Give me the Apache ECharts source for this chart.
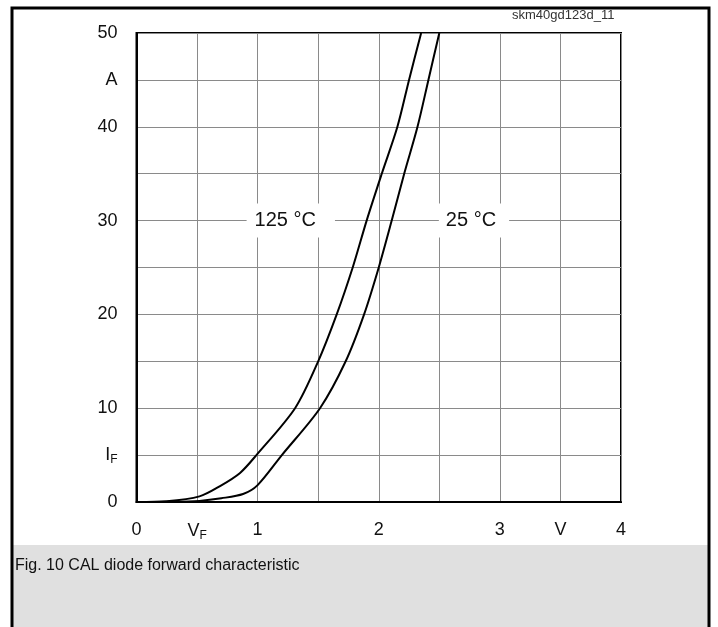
<!DOCTYPE html>
<html>
<head>
<meta charset="utf-8">
<script src="https://cdn.jsdelivr.net/npm/echarts@6/dist/echarts.min.js"></script>
<style>
html,body{margin:0;padding:0;background:#fff;}
#c{width:718px;height:627px;}
</style>
</head>
<body>
<div id="c"></div>
<script>
// Forward voltage (V) and current (A)
const vf125 = [0, 0.25, 0.52, 0.69, 0.855, 0.99, 1.309, 1.5, 1.653, 1.785, 1.9, 2.025, 2.154, 2.25, 2.35];
const if125 = [0, 0.08, 0.6, 1.7, 3.1, 5, 10, 15, 20, 25, 30, 35, 40, 45, 50];
const vf25 = [0, 0.3, 0.52, 0.7, 0.88, 1.0, 1.2, 1.515, 1.727, 1.879, 2.0, 2.107, 2.21, 2.32, 2.41, 2.5];
const if25 = [0, 0.02, 0.12, 0.4, 0.85, 1.8, 5, 10, 15, 20, 25, 30, 35, 40, 45, 50];
const xTickLabels = ['0', '{v|V}{s|F}', '1', '', '2', '', '3', 'V', '4'];
const yTickLabels = ['0', '{v|I}{s|F}', '10', '', '20', '', '30', '', '40', 'A', '50'];
const curveLabels = [
  { name: '125 °C', v: 0.975, i: 30 },
  { name: '25 °C', v: 2.554, i: 30 }
];
const figId = 'skm40gd123d_11';
const caption = 'Fig. 10 CAL diode forward characteristic';

const font = 'Liberation Sans, Arial, sans-serif';
const pairs = (xs, ys) => xs.map((x, k) => [x, ys[k]]);
const rich = {
  v: { fontSize: 18, fontFamily: font, color: '#111' },
  s: { fontSize: 12, fontFamily: font, color: '#111', padding: [9, 0, 0, 0] }
};

const chart = echarts.init(document.getElementById('c'));
chart.setOption({
  animation: false,
  backgroundColor: '#fff',
  grid: { left: 136.5, right: 97, top: 33, bottom: 125, show: true, borderColor: '#000', borderWidth: 2 },
  xAxis: {
    type: 'value', min: 0, max: 4, interval: 0.5,
    axisLine: { show: true, lineStyle: { color: '#000', width: 2 } },
    axisTick: { show: false },
    splitLine: { show: true, lineStyle: { color: '#8a8a8a', width: 1 } },
    axisLabel: {
      margin: 19, fontSize: 18, fontFamily: font, color: '#111', rich: rich,
      formatter: (val) => xTickLabels[Math.round(val / 0.5)] || ''
    }
  },
  yAxis: {
    type: 'value', min: 0, max: 50, interval: 5,
    axisLine: { show: true, lineStyle: { color: '#000', width: 2 } },
    axisTick: { show: false },
    splitLine: { show: true, lineStyle: { color: '#8a8a8a', width: 1 } },
    axisLabel: {
      margin: 19, fontSize: 18, fontFamily: font, color: '#111', rich: rich,
      formatter: (val) => yTickLabels[Math.round(val / 5)] || ''
    }
  },
  series: [
    {
      type: 'line', data: pairs(vf125, if125), smooth: 0.3, showSymbol: false,
      lineStyle: { color: '#000', width: 2 }, z: 5
    },
    {
      type: 'line', data: pairs(vf25, if25), smooth: 0.3, showSymbol: false,
      lineStyle: { color: '#000', width: 2 }, z: 5
    }
  ]
});

// Curve labels with white boxes interrupting the grid, placed through the axes
const pads = [[7, 19, 7, 8], [7, 13, 7, 7]];
const labelGraphics = curveLabels.map((d, k) => {
  const p = chart.convertToPixel({ gridIndex: 0 }, [d.v, d.i]);
  return {
    type: 'text', z: 50,
    style: {
      text: d.name, x: p[0] - pads[k][3], y: p[1],
      align: 'left', verticalAlign: 'middle',
      font: '20px ' + font, fill: '#111',
      backgroundColor: '#fff', padding: pads[k]
    }
  };
});

chart.setOption({
  graphic: [
    { type: 'rect', shape: { x: 13, y: 545, width: 695, height: 90 }, style: { fill: '#e0e0e0' }, z: -10 },
    { type: 'rect', shape: { x: 12, y: 8, width: 697, height: 640 }, style: { fill: null, stroke: '#000', lineWidth: 3 }, z: 60 },
    { type: 'text', left: 15, top: 558, style: { text: caption, font: '16px ' + font, fill: '#111' } },
    { type: 'text', left: 512, top: 9, style: { text: figId, font: '13px ' + font, fill: '#333' } }
  ].concat(labelGraphics)
});
</script>
</body>
</html>
